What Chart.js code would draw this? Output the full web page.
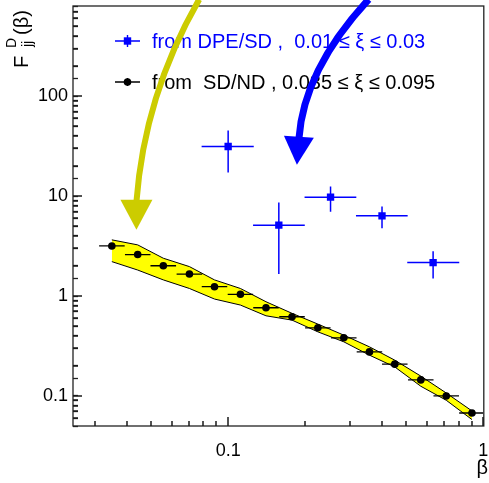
<!DOCTYPE html>
<html>
<head>
<meta charset="utf-8">
<script src="https://cdn.jsdelivr.net/npm/chart.js@4.4.1/dist/chart.umd.min.js"></script>
<style>
  html, body { margin: 0; padding: 0; background: #fff; }
</style>
</head>
<body>
<canvas id="fjjChart" width="489" height="483"></canvas>
<script>
const FONT = '"Liberation Sans", Arial, Helvetica, sans-serif';

// --- data: SD/ND points (black) with bin edges ---
const sdndBeta   = [0.035, 0.0442, 0.0557, 0.0705, 0.0884, 0.1117, 0.1407, 0.178, 0.2247, 0.284, 0.358, 0.450, 0.569, 0.716, 0.903];
const sdndBetaLo = [0.0312, 0.0394, 0.0496, 0.0628, 0.0788, 0.0996, 0.1254, 0.1586, 0.2003, 0.2531, 0.3191, 0.4011, 0.5071, 0.6381, 0.8048];
const sdndBetaHi = [0.0393, 0.0496, 0.0625, 0.0791, 0.0992, 0.1253, 0.1579, 0.1997, 0.2521, 0.3186, 0.4017, 0.5049, 0.6384, 0.8034, 1.0];
const sdndF      = [3.17, 2.60, 2.01, 1.66, 1.24, 1.04, 0.763, 0.620, 0.481, 0.382, 0.276, 0.208, 0.1447, 0.100, 0.0675];

// --- yellow uncertainty band (edges at the SD/ND beta values) ---
const bandUpper = [3.65, 3.25, 2.39, 1.97, 1.45, 1.19, 0.877, 0.671, 0.524, 0.406, 0.310, 0.228, 0.158, 0.107, 0.0708];
const bandLower = [2.21, 1.82, 1.45, 1.19, 0.933, 0.812, 0.634, 0.574, 0.438, 0.348, 0.256, 0.195, 0.125, 0.0905, 0.058];

// --- data: DPE/SD points (blue) ---
const dpeBeta   = [0.100, 0.158, 0.252, 0.401, 0.636];
const dpeBetaLo = [0.0787, 0.1252, 0.1993, 0.317, 0.5036];
const dpeBetaHi = [0.126, 0.1997, 0.318, 0.5055, 0.8053];
const dpeF      = [31.4, 5.12, 9.77, 6.35, 2.16];
const dpeFLo    = [17.2, 1.66, 6.96, 4.78, 1.50];
const dpeFHi    = [45.5, 8.63, 12.5, 7.86, 2.81];

// --- axes ---
const xRange = [0.02465, 1.005];
const yRange = [0.05, 800];
const xTickLabels = [0.1, 1];
const yTickLabels = [0.1, 1, 10, 100];

const legendLabels = [
  'from DPE/SD ,  0.01 \u2264 \u03be \u2264 0.03',
  'from  SD/ND , 0.035 \u2264 \u03be \u2264 0.095'
];

// annotation arrows, in data coordinates
const yellowArrow = { start: [0.077, 931], ctrl: [0.047, 104], end: [0.0437, 9.2], tip: [0.0437, 4.6] };
const blueArrow   = { start: [0.3555, 931], ctrl: [0.198, 185], end: [0.1894, 39.3], tip: [0.186, 20.6] };

const BLUE = '#0000ff';
const OLIVE = 'rgb(204,204,0)';

function tickLabel(list) {
  return (v) => {
    const hit = list.find(t => Math.abs(Math.log10(v) - Math.log10(t)) < 1e-6);
    return hit !== undefined ? String(hit) : '';
  };
}

// 1..9 x 10^n positions inside a log range
function logTickValues(lo, hi) {
  const out = [];
  for (let e = Math.floor(Math.log10(lo)); e <= Math.ceil(Math.log10(hi)); e++) {
    for (let m = 1; m <= 9; m++) {
      const v = m * Math.pow(10, e);
      if (v > lo && v < hi) out.push({ v, major: m === 1 });
    }
  }
  return out;
}

function drawArrow(chart, a, color, lw, half) {
  const ctx = chart.ctx;
  const px = p => [chart.scales.x.getPixelForValue(p[0]), chart.scales.y.getPixelForValue(p[1])];
  const s = px(a.start), c = px(a.ctrl), e = px(a.end), t = px(a.tip);
  ctx.strokeStyle = color;
  ctx.lineWidth = lw;
  ctx.beginPath();
  ctx.moveTo(s[0], s[1]);
  ctx.quadraticCurveTo(c[0], c[1], e[0], e[1] + 2);
  ctx.stroke();
  const dx = t[0] - e[0], dy = t[1] - e[1];
  const len = Math.hypot(dx, dy);
  const nx = -dy / len, ny = dx / len;
  ctx.fillStyle = color;
  ctx.beginPath();
  ctx.moveTo(e[0] + nx * half, e[1] + ny * half);
  ctx.lineTo(t[0], t[1]);
  ctx.lineTo(e[0] - nx * half, e[1] - ny * half);
  ctx.closePath();
  ctx.fill();
}

const rootStyle = {
  id: 'rootStyle',
  beforeDatasetDraw(chart, args) {
    const { x, y } = chart.scales;
    const ctx = chart.ctx;
    const area = chart.chartArea;
    ctx.save();
    ctx.beginPath();
    ctx.rect(area.left, area.top, area.right - area.left, area.bottom - area.top);
    ctx.clip();
    if (args.index === 1) {
      ctx.strokeStyle = '#000';
      ctx.lineWidth = 1.3;
      sdndBeta.forEach((b, i) => {
        const py = y.getPixelForValue(sdndF[i]);
        ctx.beginPath();
        ctx.moveTo(x.getPixelForValue(sdndBetaLo[i]), py);
        ctx.lineTo(x.getPixelForValue(sdndBetaHi[i]), py);
        ctx.stroke();
      });
    }
    if (args.index === 0) {
      ctx.strokeStyle = BLUE;
      ctx.lineWidth = 1.5;
      dpeBeta.forEach((b, i) => {
        const px = x.getPixelForValue(b);
        const py = y.getPixelForValue(dpeF[i]);
        ctx.beginPath();
        ctx.moveTo(x.getPixelForValue(dpeBetaLo[i]), py);
        ctx.lineTo(x.getPixelForValue(dpeBetaHi[i]), py);
        ctx.moveTo(px, y.getPixelForValue(dpeFLo[i]));
        ctx.lineTo(px, y.getPixelForValue(dpeFHi[i]));
        ctx.stroke();
      });
    }
    ctx.restore();
  },
  afterDraw(chart) {
    const ctx = chart.ctx;
    const a = chart.chartArea;
    ctx.save();

    // frame
    ctx.strokeStyle = '#222';
    ctx.lineWidth = 1.3;
    ctx.strokeRect(a.left, a.top, a.right - a.left, a.bottom - a.top);

    // axis titles
    ctx.fillStyle = '#000';
    ctx.textBaseline = 'alphabetic';
    ctx.textAlign = 'right';
    ctx.font = '20px ' + FONT;
    ctx.fillText('\u03b2', 488, 474);

    ctx.save();
    ctx.translate(28, 68);
    ctx.rotate(-Math.PI / 2);
    ctx.textAlign = 'left';
    ctx.font = '20px ' + FONT;
    ctx.fillText('F', 0, 0);
    ctx.font = '14px ' + FONT;
    ctx.fillText('D', 20, -12);
    ctx.fillText('jj', 21, 4);
    ctx.font = '20px ' + FONT;
    ctx.fillText('(\u03b2)', 33, 0);
    ctx.restore();

    // legend
    const rows = [
      { label: legendLabels[0], color: BLUE, y: 41, square: true, vh: 6 },
      { label: legendLabels[1], color: '#000', y: 82, square: false, vh: 4 }
    ];
    ctx.textAlign = 'left';
    ctx.textBaseline = 'middle';
    ctx.font = '20px ' + FONT;
    rows.forEach(r => {
      ctx.strokeStyle = r.color;
      ctx.fillStyle = r.color;
      ctx.lineWidth = 1.4;
      ctx.beginPath();
      ctx.moveTo(115, r.y);
      ctx.lineTo(140, r.y);
      ctx.moveTo(127.5, r.y - r.vh);
      ctx.lineTo(127.5, r.y + r.vh);
      ctx.stroke();
      ctx.beginPath();
      if (r.square) ctx.rect(123.8, r.y - 3.7, 7.4, 7.4);
      else ctx.arc(127.5, r.y, 3.8, 0, Math.PI * 2);
      ctx.fill();
      ctx.fillText(r.label, 152, r.y + 1);
    });

    // arrows on top
    drawArrow(chart, yellowArrow, OLIVE, 6, 16);
    drawArrow(chart, blueArrow, BLUE, 7, 15);

    ctx.restore();
  }
};

// inward tick marks, longer at powers of ten
const rootTicks = {
  id: 'rootTicks',
  afterDraw(chart) {
    const xs = chart.scales.x;
    const ys = chart.scales.y;
    const ctx = chart.ctx;
    const area = chart.chartArea;
    ctx.save();
    ctx.fillStyle = '#1a1a1a';
    logTickValues(xRange[0], xRange[1]).forEach(t => {
      const p = Math.round(xs.getPixelForValue(t.v));
      const len = t.major ? 9 : 5;
      ctx.fillRect(p - 0.75, area.bottom - len, 1.5, len);
    });
    logTickValues(yRange[0], yRange[1]).forEach(t => {
      const p = Math.round(ys.getPixelForValue(t.v));
      const len = t.major ? 9 : 5;
      ctx.fillRect(area.left, p - 0.75, len, 1.5);
    });
    ctx.restore();
  }
};

Chart.defaults.font.family = FONT;

new Chart(document.getElementById('fjjChart'), {
  type: 'scatter',
  data: {
    datasets: [
      {
        label: 'from DPE/SD',
        data: dpeBeta.map((b, i) => ({ x: b, y: dpeF[i] })),
        pointStyle: 'rect',
        pointRadius: 5.2,
        pointBackgroundColor: BLUE,
        pointBorderWidth: 0,
        order: 0
      },
      {
        label: 'from SD/ND',
        data: sdndBeta.map((b, i) => ({ x: b, y: sdndF[i] })),
        pointStyle: 'circle',
        pointRadius: 3.8,
        pointBackgroundColor: '#000',
        pointBorderWidth: 0,
        order: 1
      },
      {
        label: 'band upper',
        data: sdndBeta.map((b, i) => ({ x: b, y: bandUpper[i] })),
        showLine: true,
        fill: '+1',
        backgroundColor: '#ffff00',
        borderColor: '#000',
        borderWidth: 1,
        pointRadius: 0,
        order: 3
      },
      {
        label: 'band lower',
        data: sdndBeta.map((b, i) => ({ x: b, y: bandLower[i] })),
        showLine: true,
        borderColor: '#000',
        borderWidth: 1,
        pointRadius: 0,
        order: 2
      }
    ]
  },
  options: {
    responsive: false,
    animation: false,
    layout: { padding: { top: 6, right: 3, left: 0, bottom: 0 } },
    plugins: {
      legend: { display: false },
      tooltip: { enabled: false }
    },
    scales: {
      x: {
        type: 'logarithmic',
        min: xRange[0],
        max: xRange[1],
        grid: { display: false },
        border: { display: false },
        ticks: {
          autoSkip: false,
          maxRotation: 0,
          padding: 6,
          color: '#000',
          font: { size: 18, family: FONT },
          callback: tickLabel(xTickLabels)
        },
        afterFit(scale) {
          scale.height = 57;
          scale.paddingLeft = scale.paddingRight = 0;
        }
      },
      y: {
        type: 'logarithmic',
        min: yRange[0],
        max: yRange[1],
        // library tick marks turned inward (negative length), no grid lines
        grid: {
          display: true,
          drawOnChartArea: false,
          drawTicks: true,
          tickLength: -5,
          tickWidth: 1.3,
          tickColor: '#222'
        },
        border: { display: false },
        ticks: {
          autoSkip: false,
          padding: 10,
          color: '#000',
          font: { size: 18, family: FONT },
          callback: tickLabel(yTickLabels)
        },
        afterFit(scale) {
          scale.width = 73;
          scale.paddingTop = scale.paddingBottom = 0;
        }
      }
    }
  },
  plugins: [rootStyle, rootTicks]
});
</script>
</body>
</html>
